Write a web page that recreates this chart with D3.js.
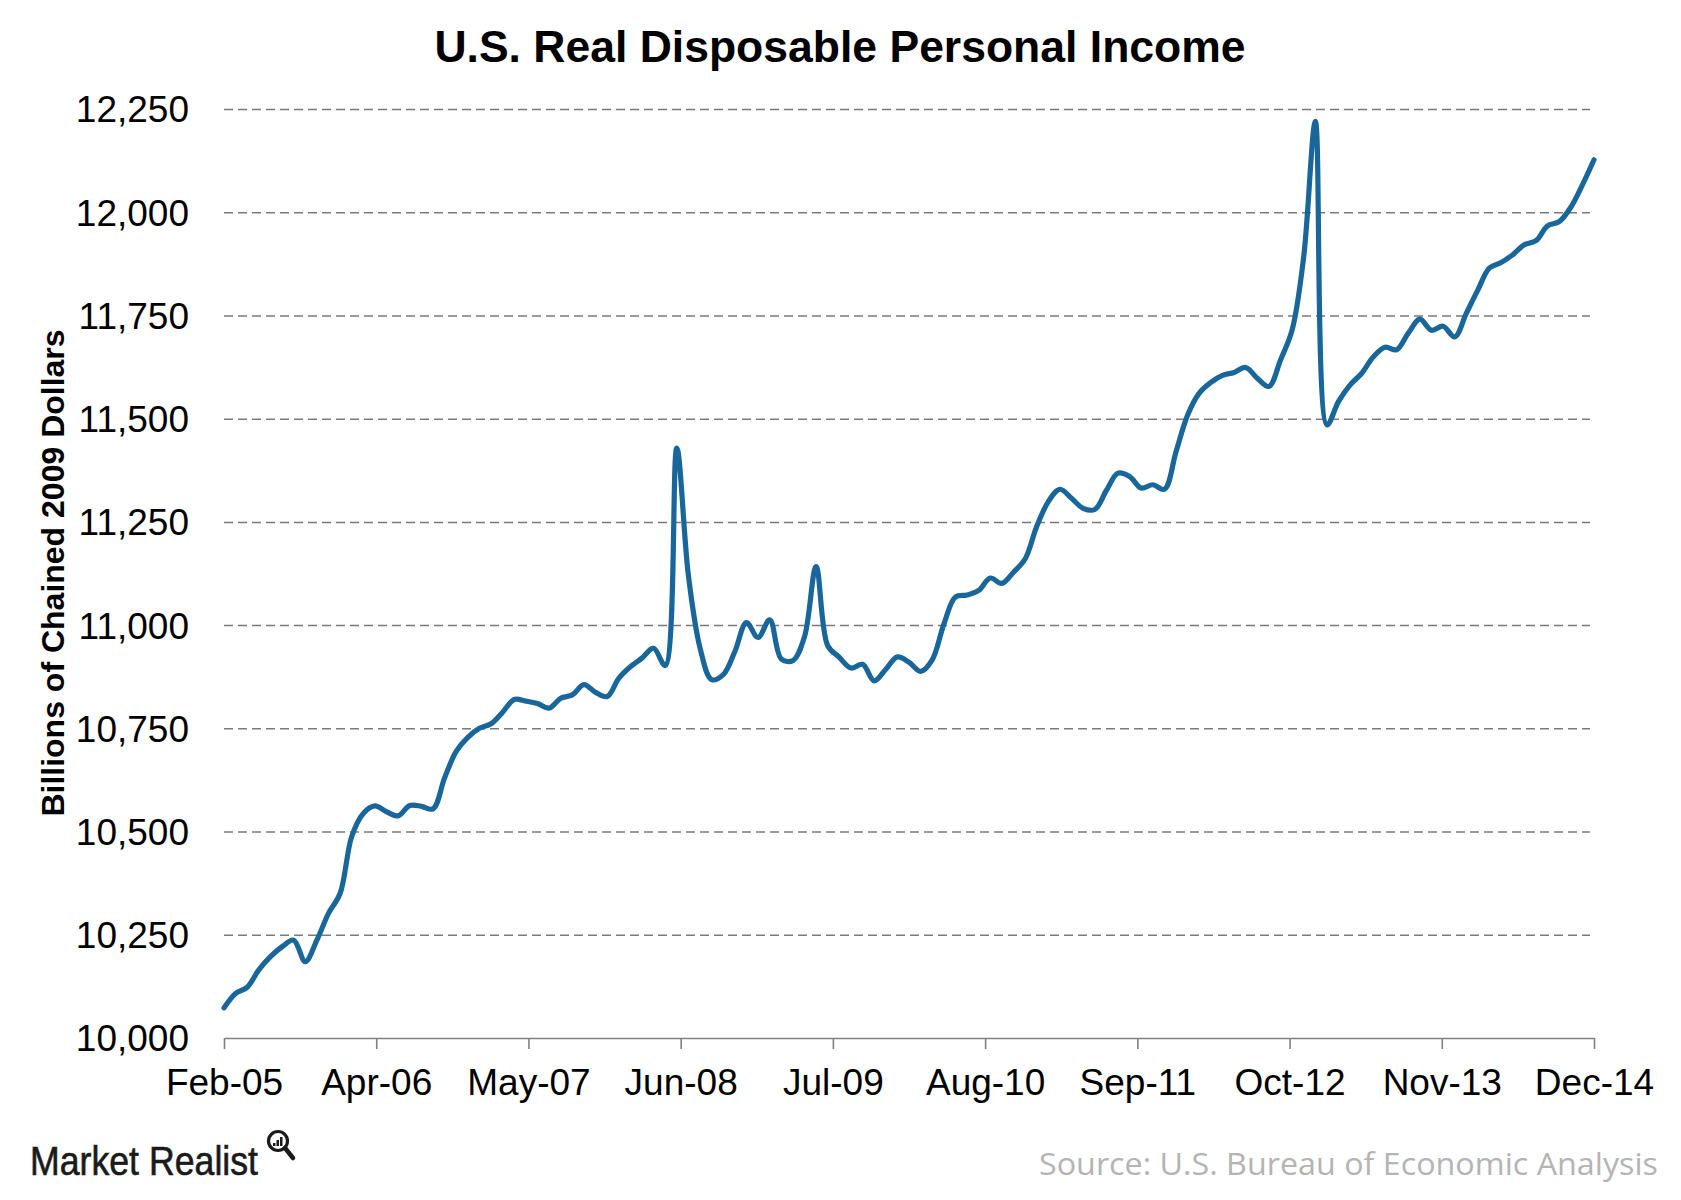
<!DOCTYPE html>
<html>
<head>
<meta charset="utf-8">
<script src="https://cdn.jsdelivr.net/npm/d3@7"></script>
<style>
  html, body { margin: 0; padding: 0; background: #fff; }
  svg { display: block; }
</style>
</head>
<body>
<svg id="chart" width="1681" height="1200"></svg>
<script>
// ---- Data (monthly, Feb-05 .. Dec-14) ----
const startMonth = "2005-02";
const income = [
  10073, 10108, 10123, 10165, 10197, 10221, 10237, 10185, 10237, 10302,
  10350, 10488, 10544, 10562, 10548, 10538, 10563, 10561, 10555, 10630,
  10694, 10728, 10750, 10761, 10789, 10820, 10816, 10810, 10799, 10823,
  10831, 10856, 10837, 10827, 10871, 10899, 10920, 10944, 10902, 11429,
  11120, 10945, 10868, 10880, 10936, 11006, 10970, 11013, 10918, 10914,
  10972, 11142, 10950, 10922, 10896, 10905, 10865, 10893, 10923, 10910,
  10888, 10916, 11002, 11068, 11073, 11084, 11114, 11101, 11128, 11160,
  11239, 11299, 11329, 11307, 11283, 11280, 11326, 11368, 11360, 11332,
  11340, 11329, 11420, 11509, 11562, 11588, 11605, 11612, 11624, 11598,
  11578, 11642, 11715, 11893, 12220, 11485, 11542, 11582, 11610, 11650,
  11673, 11667, 11707, 11741, 11714, 11724, 11698, 11755, 11812, 11865,
  11878, 11897, 11921, 11931, 11967, 11977, 12012, 12066, 12127
];
const xTickLabels = ["Feb-05", "Apr-06", "May-07", "Jun-08", "Jul-09",
                     "Aug-10", "Sep-11", "Oct-12", "Nov-13", "Dec-14"];
const yTicks = [10000, 10250, 10500, 10750, 11000, 11250, 11500, 11750, 12000, 12250];
const titleText = "U.S. Real Disposable Personal Income";
const yTitleText = "Billions of Chained 2009 Dollars";
const sourceText = "Source: U.S. Bureau of Economic Analysis";
const brandText = "Market Realist";

// ---- Layout ----
const svg = d3.select("#chart");
const plotL = 224, plotR = 1594, plotT = 109, plotB = 1038;
const lastIdx = income.length - 1;

const x = d3.scaleLinear().domain([0, lastIdx]).range([plotL, plotR]);
const y = d3.scaleLinear().domain([10000, 12250]).range([plotB, plotT]);

svg.append("rect").attr("width", 1681).attr("height", 1200).attr("fill", "#fff");

// Title
svg.append("text")
  .attr("x", 840).attr("y", 62)
  .attr("text-anchor", "middle")
  .attr("font-family", "Liberation Sans, Arial, sans-serif")
  .attr("font-weight", "bold")
  .attr("font-size", 44.5)
  .attr("fill", "#000")
  .text(titleText);

// Gridlines
const grid = svg.append("g")
  .attr("transform", `translate(${plotL},0)`)
  .call(d3.axisLeft(y)
    .tickValues(yTicks.filter(v => v > 10000))
    .tickSize(-(plotR - plotL - 4))
    .tickFormat(""));
grid.select(".domain").remove();
grid.selectAll(".tick line")
  .attr("stroke", "#7a7a7a")
  .attr("stroke-width", 1.5)
  .attr("stroke-dasharray", "9,5");

// Y axis labels
const yAxis = svg.append("g")
  .attr("transform", `translate(${plotL},0)`)
  .call(d3.axisLeft(y).tickValues(yTicks).tickSize(0).tickFormat(d3.format(",")));
yAxis.select(".domain").remove();
yAxis.selectAll(".tick text")
  .attr("x", -35)
  .attr("dy", "0.35em")
  .attr("font-family", "Liberation Sans, Arial, sans-serif")
  .attr("font-size", 37)
  .attr("fill", "#000");

// X axis
const tickPos = xTickLabels.map((d, k) => k * lastIdx / (xTickLabels.length - 1));
const xAxis = svg.append("g")
  .attr("transform", `translate(0,${plotB})`)
  .call(d3.axisBottom(x)
    .tickValues(tickPos)
    .tickSize(11)
    .tickSizeOuter(0)
    .tickFormat((d, k) => xTickLabels[k]));
xAxis.select(".domain").attr("stroke", "#808080").attr("stroke-width", 1.6);
xAxis.selectAll(".tick line").attr("stroke", "#808080").attr("stroke-width", 1.6);
xAxis.selectAll(".tick text")
  .attr("y", 57).attr("dy", 0)
  .attr("font-family", "Liberation Sans, Arial, sans-serif")
  .attr("font-size", 37)
  .attr("fill", "#000");

// Y axis title
svg.append("text")
  .attr("transform", `translate(64,573) rotate(-90)`)
  .attr("text-anchor", "middle")
  .attr("font-family", "Liberation Sans, Arial, sans-serif")
  .attr("font-weight", "bold")
  .attr("font-size", 32)
  .attr("fill", "#000")
  .text(yTitleText);

// Line
const line = d3.line()
  .x((d, i) => x(i))
  .y(d => y(d))
  .curve(d3.curveCatmullRom.alpha(0.5));
svg.append("path")
  .datum(income)
  .attr("d", line)
  .attr("fill", "none")
  .attr("stroke", "#18669a")
  .attr("stroke-width", 5.2)
  .attr("stroke-linejoin", "round")
  .attr("stroke-linecap", "round");

// Brand
svg.append("text")
  .attr("x", 30).attr("y", 1175)
  .attr("font-family", "Liberation Sans Narrow, Liberation Sans, Arial, sans-serif")
  .attr("font-size", 40)
  .attr("textLength", 228)
  .attr("lengthAdjust", "spacingAndGlyphs")
  .attr("fill", "#1a1a1a")
  .attr("stroke", "#1a1a1a")
  .attr("stroke-width", 0.6)
  .text(brandText);
const icon = svg.append("g").attr("transform", "translate(278,1141)");
icon.append("circle").attr("r", 9.5).attr("fill", "#fff").attr("stroke", "#1a1a1a").attr("stroke-width", 3.2);
icon.append("line").attr("x1", 7).attr("y1", 7).attr("x2", 15).attr("y2", 17)
  .attr("stroke", "#1a1a1a").attr("stroke-width", 4.5).attr("stroke-linecap", "round");
[[-5, 3], [-1.5, 6], [2, 9]].forEach(([bx, h]) => {
  icon.append("rect").attr("x", bx).attr("y", 5 - h).attr("width", 2.5).attr("height", h).attr("fill", "#1a1a1a");
});

// Source
svg.append("text")
  .attr("x", 1658).attr("y", 1175)
  .attr("text-anchor", "end")
  .attr("font-family", "Open Sans, Liberation Sans, sans-serif")
  .attr("font-size", 31)
  .attr("textLength", 619)
  .attr("lengthAdjust", "spacingAndGlyphs")
  .attr("fill", "#b4b4b4")
  .text(sourceText);
</script>
</body>
</html>
